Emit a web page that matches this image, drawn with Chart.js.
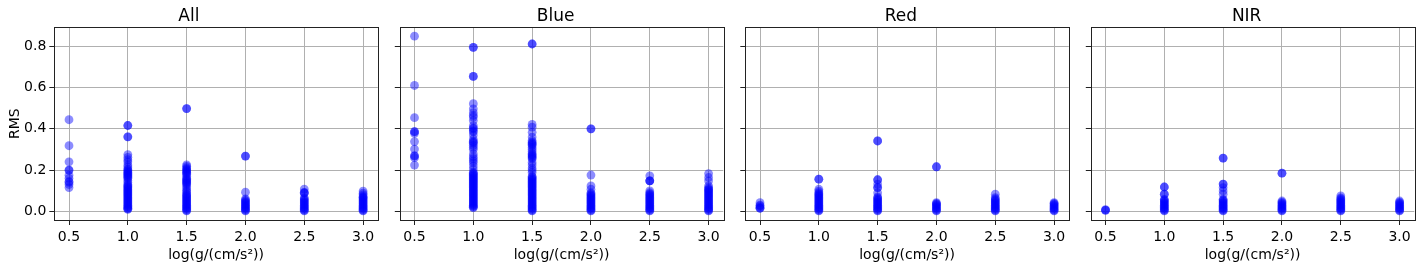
<!DOCTYPE html>
<html>
<head>
<meta charset="utf-8">
<script src="https://cdn.jsdelivr.net/npm/chart.js"></script>
<style>
  body { margin: 0; background: #fff; }
  #wrap { position: relative; width: 1424px; height: 272px; }
  canvas { position: absolute; top: 0; }
</style>
</head>
<body>
<div id="wrap"></div>
<script>
// data
const panelTitles = ['All', 'Blue', 'Red', 'NIR'];
const logg = [0.5, 1.0, 1.5, 2.0, 2.5, 3.0];
const xTicks = [0.5, 1.0, 1.5, 2.0, 2.5, 3.0];
const yTicks = [0.0, 0.2, 0.4, 0.6, 0.8];
const xLabel = 'log(g/(cm/s²))';
const yLabel = 'RMS';

// RMS values per log g (one inner array per log g value)
const rmsAll = [
  [0.444, 0.318, 0.24, 0.2, 0.2, 0.175, 0.16, 0.145, 0.14, 0.13, 0.115],
  [0.416, 0.416, 0.361, 0.361, 0.275, 0.262, 0.25, 0.24, 0.225, 0.215, 0.205, 0.2, 0.195, 0.19, 0.185, 0.18, 0.175, 0.17, 0.165, 0.16, 0.15, 0.14, 0.13, 0.125, 0.12, 0.115, 0.11, 0.105, 0.1, 0.095, 0.09, 0.085, 0.08, 0.075, 0.07, 0.065, 0.06, 0.055, 0.05, 0.045, 0.04, 0.035, 0.03, 0.025, 0.02, 0.015, 0.012, 0.01],
  [0.498, 0.498, 0.225, 0.218, 0.21, 0.205, 0.2, 0.195, 0.19, 0.185, 0.18, 0.17, 0.16, 0.155, 0.15, 0.145, 0.14, 0.135, 0.13, 0.12, 0.11, 0.1, 0.094, 0.085, 0.08, 0.075, 0.07, 0.065, 0.06, 0.055, 0.05, 0.045, 0.04, 0.035, 0.03, 0.025, 0.02, 0.015, 0.01, 0.005, 0.002],
  [0.268, 0.268, 0.093, 0.06, 0.055, 0.05, 0.045, 0.04, 0.035, 0.03, 0.025, 0.02, 0.015, 0.01, 0.005, 0.002],
  [0.108, 0.092, 0.09, 0.088, 0.065, 0.06, 0.055, 0.05, 0.045, 0.04, 0.035, 0.03, 0.025, 0.02, 0.015, 0.01, 0.005, 0.002],
  [0.098, 0.088, 0.08, 0.072, 0.068, 0.065, 0.06, 0.055, 0.05, 0.045, 0.04, 0.035, 0.03, 0.025, 0.02, 0.015, 0.01, 0.005, 0.002]
];
const rmsBlue = [
  [0.849, 0.61, 0.454, 0.387, 0.385, 0.378, 0.338, 0.302, 0.27, 0.268, 0.26, 0.224],
  [0.795, 0.795, 0.654, 0.654, 0.522, 0.497, 0.478, 0.465, 0.457, 0.44, 0.415, 0.405, 0.4, 0.39, 0.385, 0.37, 0.35, 0.34, 0.335, 0.33, 0.32, 0.31, 0.3, 0.278, 0.265, 0.255, 0.245, 0.235, 0.22, 0.205, 0.19, 0.185, 0.18, 0.175, 0.17, 0.165, 0.16, 0.155, 0.15, 0.145, 0.14, 0.135, 0.13, 0.125, 0.12, 0.115, 0.11, 0.105, 0.1, 0.095, 0.09, 0.085, 0.08, 0.075, 0.07, 0.065, 0.06, 0.055, 0.05, 0.045, 0.04, 0.035, 0.03, 0.025, 0.02, 0.018],
  [0.811, 0.811, 0.421, 0.408, 0.383, 0.36, 0.343, 0.335, 0.33, 0.325, 0.32, 0.31, 0.3, 0.29, 0.28, 0.275, 0.27, 0.265, 0.26, 0.254, 0.237, 0.225, 0.21, 0.2, 0.188, 0.17, 0.165, 0.16, 0.155, 0.15, 0.145, 0.14, 0.135, 0.13, 0.125, 0.12, 0.115, 0.11, 0.105, 0.1, 0.095, 0.09, 0.085, 0.08, 0.075, 0.07, 0.065, 0.06, 0.055, 0.05, 0.045, 0.04, 0.035, 0.03, 0.025, 0.02, 0.015, 0.01, 0.005, 0.002],
  [0.4, 0.4, 0.176, 0.123, 0.107, 0.09, 0.085, 0.08, 0.075, 0.07, 0.065, 0.06, 0.055, 0.05, 0.045, 0.04, 0.035, 0.03, 0.025, 0.02, 0.015, 0.01, 0.005, 0.002],
  [0.172, 0.148, 0.148, 0.148, 0.099, 0.09, 0.085, 0.08, 0.075, 0.07, 0.065, 0.06, 0.055, 0.05, 0.045, 0.04, 0.035, 0.03, 0.025, 0.02, 0.015, 0.01, 0.005, 0.002],
  [0.183, 0.164, 0.148, 0.123, 0.115, 0.108, 0.105, 0.1, 0.095, 0.09, 0.085, 0.08, 0.075, 0.07, 0.065, 0.06, 0.055, 0.05, 0.045, 0.04, 0.035, 0.03, 0.025, 0.02, 0.015, 0.01, 0.005, 0.002]
];
const rmsRed = [
  [0.042, 0.03, 0.026, 0.02, 0.015, 0.015],
  [0.156, 0.156, 0.107, 0.098, 0.09, 0.085, 0.08, 0.075, 0.07, 0.065, 0.06, 0.055, 0.05, 0.045, 0.04, 0.035, 0.03, 0.025, 0.02, 0.015, 0.01, 0.005, 0.002],
  [0.341, 0.341, 0.153, 0.153, 0.132, 0.115, 0.115, 0.09, 0.07, 0.065, 0.06, 0.055, 0.05, 0.045, 0.04, 0.035, 0.03, 0.025, 0.02, 0.015, 0.01, 0.005, 0.002],
  [0.216, 0.216, 0.042, 0.038, 0.035, 0.03, 0.025, 0.02, 0.015, 0.01, 0.005, 0.002],
  [0.083, 0.066, 0.06, 0.055, 0.05, 0.045, 0.04, 0.035, 0.03, 0.025, 0.02, 0.015, 0.01, 0.005, 0.002],
  [0.042, 0.038, 0.035, 0.03, 0.025, 0.02, 0.015, 0.01, 0.005, 0.002]
];
const rmsNir = [
  [0.008, 0.006, 0.005],
  [0.118, 0.118, 0.083, 0.083, 0.058, 0.055, 0.05, 0.045, 0.04, 0.035, 0.03, 0.025, 0.02, 0.015, 0.01, 0.005, 0.002],
  [0.258, 0.258, 0.132, 0.132, 0.115, 0.099, 0.083, 0.058, 0.055, 0.05, 0.045, 0.04, 0.035, 0.03, 0.025, 0.02, 0.015, 0.01, 0.005, 0.002],
  [0.185, 0.185, 0.05, 0.045, 0.04, 0.035, 0.03, 0.025, 0.02, 0.015, 0.01, 0.005, 0.002],
  [0.075, 0.065, 0.06, 0.055, 0.05, 0.045, 0.04, 0.035, 0.03, 0.025, 0.02, 0.015, 0.01, 0.005, 0.002],
  [0.05, 0.045, 0.04, 0.035, 0.03, 0.025, 0.02, 0.015, 0.01, 0.005, 0.002]
];
const panelData = [rmsAll, rmsBlue, rmsRed, rmsNir];

// layout of the four panels (pixels)
const canvasLeft = [0, 388, 733, 1079];
const canvasWidth = [388, 345, 345, 345];
const plotLeft = [54.3, 399.8, 745.3, 1090.8];
const plotWidth = 323.5;
const H = 272;

Chart.defaults.font.family = 'DejaVu Sans';
Chart.defaults.color = '#000';

// box round the plot area, like matplotlib spines
const framePlugin = {
  id: 'frame',
  afterDraw(chart) {
    const { ctx, chartArea: a } = chart;
    ctx.save();
    ctx.strokeStyle = '#222';
    ctx.lineWidth = 1;
    ctx.strokeRect(Math.round(a.left) + 0.5, Math.round(a.top) + 0.5,
      Math.round(a.right - a.left), Math.round(a.bottom - a.top));
    ctx.restore();
  }
};

const wrap = document.getElementById('wrap');

panelTitles.forEach((title, p) => {
  const canvas = document.createElement('canvas');
  canvas.width = canvasWidth[p];
  canvas.height = H;
  canvas.style.left = canvasLeft[p] + 'px';
  canvas.style.width = canvasWidth[p] + 'px';
  canvas.style.height = H + 'px';
  wrap.appendChild(canvas);

  const axisW = plotLeft[p] - canvasLeft[p];
  const padRight = canvasWidth[p] - axisW - plotWidth;

  const points = [];
  panelData[p].forEach((vals, i) => {
    vals.forEach(v => points.push({ x: logg[i], y: v }));
  });

  new Chart(canvas.getContext('2d'), {
    type: 'scatter',
    data: {
      datasets: [{
        data: points,
        backgroundColor: 'rgba(0, 0, 255, 0.45)',
        borderWidth: 0,
        pointRadius: 4.4
      }]
    },
    options: {
      responsive: false,
      animation: false,
      layout: { padding: { left: 0, right: padRight, top: 0, bottom: 0 } },
      plugins: {
        legend: { display: false },
        tooltip: { enabled: false },
        title: {
          display: true,
          text: title,
          font: { size: 17, weight: 'normal' },
          color: '#000',
          padding: { top: 6, bottom: 0.9 }
        }
      },
      scales: {
        x: {
          type: 'linear',
          min: 0.375,
          max: 3.125,
          afterBuildTicks: s => { s.ticks = xTicks.map(v => ({ value: v })); },
          afterFit: s => { s.height = 52; },
          ticks: {
            font: { size: 14 },
            color: '#000',
            padding: 4,
            maxRotation: 0,
            callback: v => v.toFixed(1)
          },
          grid: { color: '#b0b0b0', lineWidth: 1, tickColor: '#222', tickLength: 5 },
          border: { display: false },
          title: {
            display: true,
            text: xLabel,
            font: { size: 14 },
            color: '#000',
            padding: { top: 0, bottom: 8 }
          }
        },
        y: {
          min: -0.042,
          max: 0.892,
          afterBuildTicks: s => { s.ticks = yTicks.map(v => ({ value: v })); },
          afterFit: s => { s.width = axisW; },
          ticks: {
            font: { size: 14 },
            color: '#000',
            padding: 3,
            callback: v => (p === 0 ? v.toFixed(1) : '')
          },
          grid: { color: '#b0b0b0', lineWidth: 1, tickColor: '#222', tickLength: 5 },
          border: { display: false },
          title: {
            display: p === 0,
            text: yLabel,
            font: { size: 14 },
            color: '#000',
            padding: { top: 6.6, bottom: 0 }
          }
        }
      }
    },
    plugins: [framePlugin]
  });
});
</script>
</body>
</html>
